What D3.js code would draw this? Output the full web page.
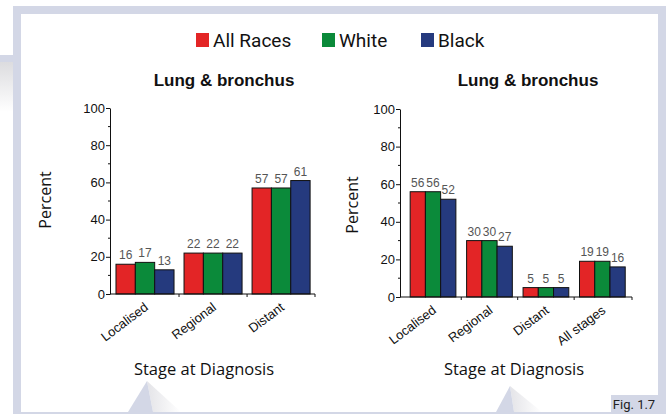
<!DOCTYPE html>
<html>
<head>
<meta charset="utf-8">
<script src="https://cdn.jsdelivr.net/npm/d3@7"></script>
<style>
  body { margin: 0; background: #fff; }
  svg { display: block; }
</style>
</head>
<body>
<div id="chart"></div>
<script>
// Data
var series = ["All Races", "White", "Black"];
var seriesColors = ["#e32526", "#0b8a3a", "#253a7e"];

var categoriesLeft = ["Localised", "Regional", "Distant"];
var allRacesLeft = [16, 22, 57];
var whiteLeft = [17, 22, 57];
var blackLeft = [13, 22, 61];

var categoriesRight = ["Localised", "Regional", "Distant", "All stages"];
var allRacesRight = [56, 30, 5, 19];
var whiteRight = [56, 30, 5, 19];
var blackRight = [52, 27, 5, 16];

var yTicks = [0, 20, 40, 60, 80, 100];
var yMinorTicks = [10, 30, 50, 70, 90];

var svgWidth = 669;
var svgHeight = 414;

var svg = d3.select("#chart")
    .append("svg")
    .attr("width", svgWidth)
    .attr("height", svgHeight);

//Background frame
var defs = svg.append("defs");
var grad = defs.append("linearGradient").attr("id", "shade").attr("x1", 0).attr("x2", 0).attr("y1", 0).attr("y2", 1);
grad.append("stop").attr("offset", "0%").attr("stop-color", "#dcdcdf");
grad.append("stop").attr("offset", "100%").attr("stop-color", "#ffffff");
var grad2 = defs.append("linearGradient").attr("id", "shade2").attr("x1", 0).attr("x2", 1).attr("y1", 0).attr("y2", 0);
grad2.append("stop").attr("offset", "0%").attr("stop-color", "#e4e4e8");
grad2.append("stop").attr("offset", "100%").attr("stop-color", "#ffffff");

svg.append("rect").attr("x", 0).attr("y", 62).attr("width", 13).attr("height", 50).attr("fill", "url(#shade)");
svg.append("rect").attr("x", 0).attr("y", 55).attr("width", 14).attr("height", 7).attr("fill", "#d3d7e6");
svg.append("rect").attr("x", 13).attr("y", 6).attr("width", 653).attr("height", 410).attr("fill", "#d3d7e6");
svg.append("rect").attr("x", 21).attr("y", 14).attr("width", 637).attr("height", 398).attr("fill", "#ffffff");

//Decorative pointers at the bottom
[[128, 147, 153, 381], [496, 510, 514, 386]].forEach(function(t) {
    svg.append("polygon")
        .attr("points", `${t[2]},412 ${t[1]},${t[3]} ${t[2] + 28},412`)
        .attr("fill", "url(#shade2)");
    svg.append("polygon")
        .attr("points", `${t[0]},412 ${t[1]},${t[3]} ${t[2]},412`)
        .attr("fill", "#d3d7e6");
});

//Fig label
svg.append("rect").attr("x", 611).attr("y", 395).attr("width", 47).attr("height", 17).attr("fill", "#d3d7e6");
svg.append("text")
    .attr("x", 634).attr("y", 409)
    .attr("text-anchor", "middle")
    .attr("font-family", "Roboto")
    .attr("font-size", 13)
    .attr("fill", "#222")
    .text("Fig. 1.7");

//Legend
var legendX = [196, 322, 421];
var legend = svg.append("g");
series.forEach(function(s, i) {
    legend.append("rect")
        .attr("x", legendX[i]).attr("y", 33)
        .attr("width", 13).attr("height", 14)
        .attr("fill", seriesColors[i]);
    legend.append("text")
        .attr("x", legendX[i] + 17).attr("y", 47)
        .attr("font-family", "Roboto")
        .attr("font-size", 19)
        .attr("fill", "#111")
        .text(s);
});

function drawPanel(opt) {
    var g = svg.append("g");

    var x = d3.scaleBand()
        .domain(opt.categories)
        .range([opt.x0, opt.x1])
        .paddingInner(opt.padInner)
        .paddingOuter(opt.padOuter)
        .align(opt.align);

    var xSub = d3.scaleBand()
        .domain(series)
        .range([0, x.bandwidth()]);

    var y = d3.scaleLinear()
        .domain([0, 100])
        .range([opt.y0, opt.y1]);

    var rows = opt.categories.map(function(c, i) {
        return { cat: c, vals: [opt.data[0][i], opt.data[1][i], opt.data[2][i]] };
    });

    //Bars
    var groups = g.selectAll(".grp")
        .data(rows).enter()
        .append("g")
        .attr("transform", d => `translate(${x(d.cat)},0)`);

    groups.selectAll("rect")
        .data(d => d.vals.map((v, k) => ({ s: series[k], v: v, c: seriesColors[k] })))
        .enter()
        .append("rect")
        .attr("x", d => xSub(d.s))
        .attr("y", d => y(d.v))
        .attr("width", xSub.bandwidth())
        .attr("height", d => y(0) - y(d.v))
        .attr("fill", d => d.c)
        .attr("stroke", "#111")
        .attr("stroke-width", 1);

    groups.selectAll("text")
        .data(d => d.vals.map((v, k) => ({ s: series[k], v: v })))
        .enter()
        .append("text")
        .attr("x", d => xSub(d.s) + xSub.bandwidth() / 2)
        .attr("y", d => y(d.v) - 5)
        .attr("text-anchor", "middle")
        .attr("font-family", "Liberation Sans")
        .attr("font-size", 12)
        .attr("fill", "#555")
        .text(d => d.v);

    //Y axis
    var leftAxis = d3.axisLeft(y)
        .tickValues(yTicks)
        .tickSize(4)
        .tickSizeOuter(0)
        .tickPadding(1);
    var yg = g.append("g")
        .attr("transform", `translate(${opt.x0},0)`)
        .call(leftAxis);
    yg.selectAll("text")
        .attr("font-family", "Liberation Sans")
        .attr("font-size", 13)
        .attr("fill", "#111");
    yg.selectAll("line, path").attr("stroke", "#111");
    g.append("g")
        .attr("transform", `translate(${opt.x0},0)`)
        .selectAll("line")
        .data(yMinorTicks).enter()
        .append("line")
        .attr("x1", -2).attr("x2", 0)
        .attr("y1", d => y(d)).attr("y2", d => y(d))
        .attr("stroke", "#111");

    //X axis line and ticks
    g.append("line")
        .attr("x1", opt.x0).attr("x2", opt.x1)
        .attr("y1", y(0)).attr("y2", y(0))
        .attr("stroke", "#111").attr("stroke-width", 1.2);
    var bounds = opt.categories.slice(1).map(c => x(c) - x.step() * x.paddingInner() / 2);
    bounds.push(opt.x1);
    g.selectAll(".xt")
        .data(bounds).enter()
        .append("line")
        .attr("x1", d => d).attr("x2", d => d)
        .attr("y1", y(0)).attr("y2", y(0) + 3)
        .attr("stroke", "#111");

    //X tick labels
    g.selectAll(".xl")
        .data(opt.categories).enter()
        .append("text")
        .attr("transform", d => `translate(${x(d) + x.bandwidth() / 2 + 4},${y(0) + 15}) rotate(-37)`)
        .attr("text-anchor", "end")
        .attr("font-family", "Liberation Sans")
        .attr("font-size", 13)
        .attr("fill", "#111")
        .text(d => d);

    //Title
    g.append("text")
        .attr("x", opt.titleX).attr("y", 86)
        .attr("text-anchor", "middle")
        .attr("font-family", "Liberation Sans")
        .attr("font-weight", "bold")
        .attr("font-size", 17)
        .attr("fill", "#111")
        .text("Lung & bronchus");

    //Axis titles
    g.append("text")
        .attr("transform", `translate(${opt.percentX},${opt.percentY}) rotate(-90)`)
        .attr("text-anchor", "middle")
        .attr("font-family", "Open Sans")
        .attr("font-size", 16)
        .attr("fill", "#111")
        .text("Percent");

    g.append("text")
        .attr("x", opt.stageX).attr("y", 375)
        .attr("text-anchor", "middle")
        .attr("font-family", "Open Sans")
        .attr("font-size", 16.5)
        .attr("fill", "#111")
        .text("Stage at Diagnosis");
}

drawPanel({
    categories: categoriesLeft,
    data: [allRacesLeft, whiteLeft, blackLeft],
    x0: 110, x1: 315,
    padInner: 0.147, padOuter: 0.08, align: 0.55,
    y0: 294, y1: 108,
    titleX: 224, percentX: 51, percentY: 200, stageX: 204
});

drawPanel({
    categories: categoriesRight,
    data: [allRacesRight, whiteRight, blackRight],
    x0: 400, x1: 632,
    padInner: 0.19, padOuter: 0.15, align: 0.6,
    y0: 297, y1: 109,
    titleX: 528, percentX: 358, percentY: 205, stageX: 514
});
</script>
</body>
</html>
